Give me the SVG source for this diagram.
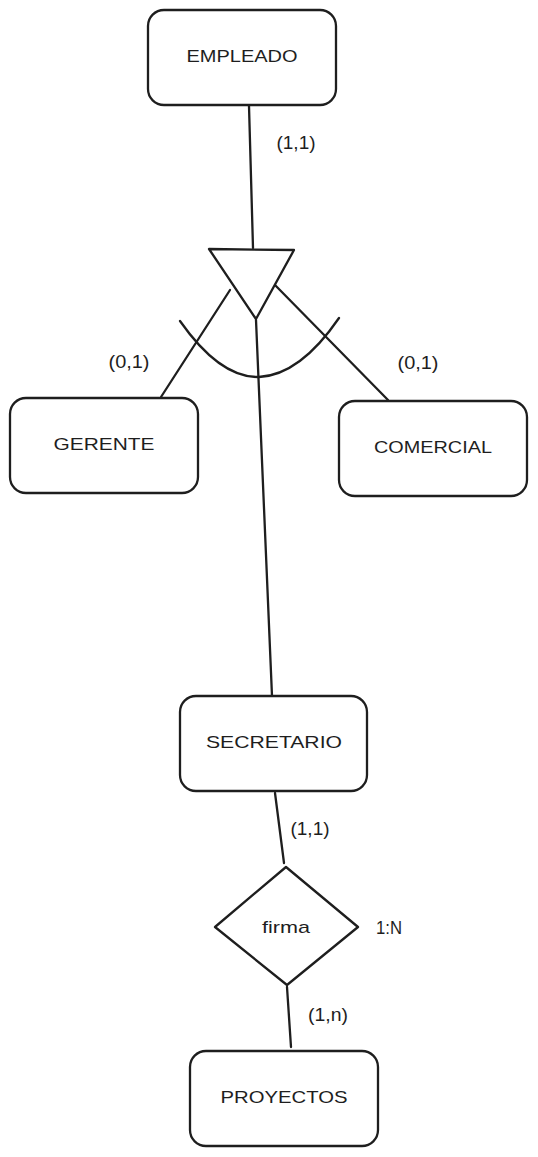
<svg xmlns="http://www.w3.org/2000/svg" width="538" height="1157" viewBox="0 0 538 1157">
<style>
.shape{fill:#ffffff;stroke:#1e1e1e;stroke-width:2.3;stroke-linejoin:round}
.line{fill:none;stroke:#1e1e1e;stroke-width:2.3;stroke-linecap:round}
.t{font-family:"Liberation Sans",Arial,sans-serif;font-size:17px;fill:#1e1e1e;text-anchor:middle;dominant-baseline:central}
.lbl{font-family:"Liberation Sans",Arial,sans-serif;font-size:19px;fill:#1e1e1e;text-anchor:middle;dominant-baseline:central}
</style>
<rect width="538" height="1157" fill="#ffffff"/>
<g id="connectors">
<path class="line" d="M249 106 L253 248"/>
<path class="line" d="M230 290 L161 397"/>
<path class="line" d="M274 284 L388 400"/>
<path class="line" d="M256 320 L272 696"/>
<path class="line" d="M180 321 Q220 378 259 377 Q300 375 339 318"/>
<path class="line" d="M275 793 L284 863"/>
<path class="line" d="M287 987 L291 1047"/>
</g>
<g id="empleado">
<rect class="shape" x="148" y="10" width="188" height="95" rx="16"/>
<text class="t" x="242" y="56" textLength="111" lengthAdjust="spacingAndGlyphs">EMPLEADO</text>
</g>
<g id="isa">
<polygon class="shape" points="209,249 294,250 256,319"/>
</g>
<g id="gerente">
<rect class="shape" x="10" y="398" width="188" height="95" rx="16"/>
<text class="t" x="104" y="444" textLength="101" lengthAdjust="spacingAndGlyphs">GERENTE</text>
</g>
<g id="comercial">
<rect class="shape" x="339" y="401" width="188" height="95" rx="16"/>
<text class="t" x="433" y="447" textLength="118" lengthAdjust="spacingAndGlyphs">COMERCIAL</text>
</g>
<g id="secretario">
<rect class="shape" x="180" y="696" width="187" height="95" rx="16"/>
<text class="t" x="274" y="742" textLength="136" lengthAdjust="spacingAndGlyphs">SECRETARIO</text>
</g>
<g id="firma">
<path class="shape" d="M286 867 L358 927 L287 985 L215 927 Z"/>
<text class="t" x="286" y="927" font-size="16" textLength="48" lengthAdjust="spacingAndGlyphs">firma</text>
</g>
<g id="proyectos">
<rect class="shape" x="190" y="1051" width="188" height="95" rx="16"/>
<text class="t" x="284" y="1097" textLength="127" lengthAdjust="spacingAndGlyphs">PROYECTOS</text>
</g>
<g id="labels">
<text class="lbl" x="296" y="142" textLength="39" lengthAdjust="spacingAndGlyphs">(1,1)</text>
<text class="lbl" x="129" y="361" textLength="41" lengthAdjust="spacingAndGlyphs">(0,1)</text>
<text class="lbl" x="418" y="362" textLength="41" lengthAdjust="spacingAndGlyphs">(0,1)</text>
<text class="lbl" x="310" y="828" textLength="39" lengthAdjust="spacingAndGlyphs">(1,1)</text>
<text class="lbl" x="389" y="927" textLength="26" lengthAdjust="spacingAndGlyphs">1:N</text>
<text class="lbl" x="328" y="1014" textLength="40" lengthAdjust="spacingAndGlyphs">(1,n)</text>
</g>
</svg>
